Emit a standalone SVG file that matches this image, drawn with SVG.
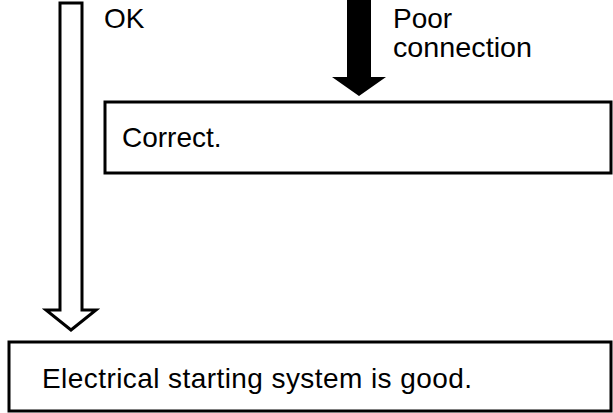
<svg xmlns="http://www.w3.org/2000/svg" width="613" height="413" viewBox="0 0 613 413">
<style>
.box{fill:#fff;stroke:#000;stroke-width:3}
.t{font-family:"Liberation Sans",Arial,sans-serif;font-size:28px;fill:#000}
</style>
<rect width="613" height="413" fill="#fff"/>
<g id="connectors">
<path id="ok-arrow" d="M60,3 H82 V310 H96 L71,330 L46,310 H60 Z" fill="#fff" stroke="#000" stroke-width="3" stroke-linejoin="miter"/>
<path id="poor-arrow" d="M347,0 H371 V77 H386 L359,96 L332,77 H347 Z" fill="#000"/>
<text class="t" x="104" y="28">OK</text>
<text class="t" x="393" y="28">Poor</text>
<text class="t" x="393" y="57" textLength="139" lengthAdjust="spacingAndGlyphs">connection</text>
</g>
<g id="node-correct">
<rect class="box" x="105" y="102" width="506" height="71"/>
<text class="t" x="122" y="147">Correct.</text>
</g>
<g id="node-good">
<rect class="box" x="9" y="342" width="602" height="69"/>
<text class="t" x="42" y="388" textLength="430">Electrical starting system is good.</text>
</g>
</svg>
